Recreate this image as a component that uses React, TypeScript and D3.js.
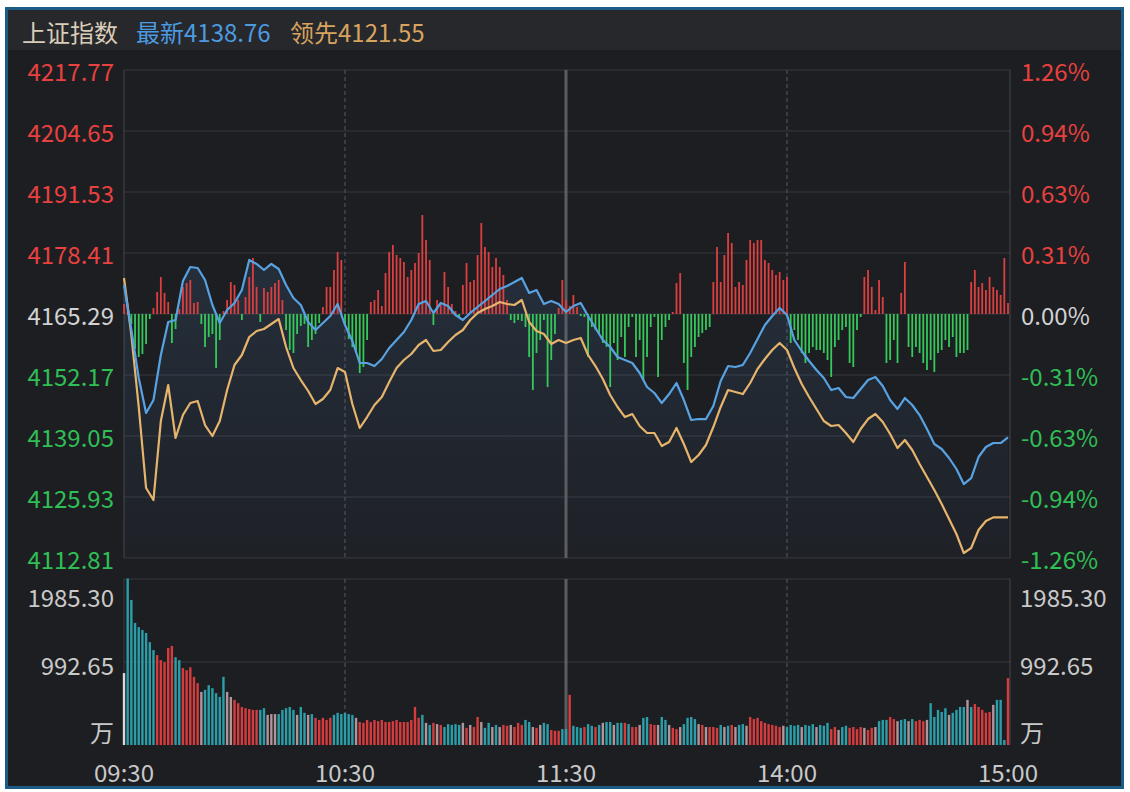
import React from "react";
import * as d3 from "d3";

const prevClose = 4165.29;
const priceTicks = [4217.77, 4204.65, 4191.53, 4178.41, 4165.29, 4152.17, 4139.05, 4125.93, 4112.81];
const pctTicks = ["1.26%", "0.94%", "0.63%", "0.31%", "0.00%", "-0.31%", "-0.63%", "-0.94%", "-1.26%"];
const volTicks = [1985.3, 992.65];
const timeLabels = ["09:30", "10:30", "11:30", "14:00", "15:00"];
const timeIdx = [0, 60, 120, 180, 240];
const titleName = "上证指数";
const lastLatest = "最新4138.76";
const lastLeading = "领先4121.55";

// one value every 2 minutes (121 points)
const latest = [
  4171.53, 4161.85, 4151.52, 4144.0, 4146.79, 4156.47, 4163.57, 4164.0, 4172.39, 4175.4,
  4175.18, 4172.6, 4167.23, 4163.35, 4166.15, 4167.66, 4170.45, 4176.91, 4176.05, 4174.75,
  4176.05, 4174.97, 4171.53, 4168.73, 4167.23, 4163.57, 4161.85, 4163.35, 4164.86, 4167.44,
  4162.92, 4159.48, 4154.75, 4154.75, 4154.1, 4155.61, 4157.98, 4159.7, 4161.42, 4164.0,
  4167.44, 4168.09, 4165.51, 4167.66, 4167.01, 4165.07, 4164.0, 4165.51, 4166.8, 4168.09,
  4169.38, 4170.67, 4171.31, 4172.17, 4173.03, 4169.81, 4170.45, 4167.44, 4168.09, 4167.44,
  4165.72, 4167.01, 4167.66, 4164.86, 4162.28, 4159.7, 4158.19, 4156.04, 4155.4, 4154.75,
  4152.6, 4149.59, 4148.3, 4146.15, 4148.08, 4150.45, 4146.79, 4142.49, 4142.7, 4142.7,
  4145.5, 4150.88, 4154.1, 4153.89, 4154.32, 4156.9, 4159.91, 4162.92, 4164.86, 4166.58,
  4165.07, 4159.7, 4157.33, 4155.18, 4153.24, 4151.52, 4148.94, 4149.37, 4147.44, 4147.22,
  4149.16, 4151.09, 4151.74, 4149.8, 4146.79, 4144.86, 4147.22, 4145.72, 4143.56, 4140.55,
  4137.33, 4136.25, 4134.32, 4131.95, 4128.72, 4130.01, 4134.53, 4136.68, 4137.54, 4137.54,
  4138.76,
];

const leading = [
  4173.03, 4160.77, 4145.29, 4127.86, 4125.28, 4142.27, 4150.02, 4138.62, 4143.56, 4146.15,
  4146.58, 4141.41, 4139.05, 4142.27, 4148.94, 4154.32, 4156.47, 4160.34, 4161.63, 4162.06,
  4163.14, 4164.21, 4158.19, 4153.67, 4151.09, 4148.73, 4145.93, 4147.01, 4148.94, 4153.67,
  4152.81, 4145.93, 4140.77, 4143.13, 4145.72, 4147.44, 4150.66, 4153.67, 4155.4, 4156.69,
  4158.62, 4159.7, 4157.33, 4157.55, 4159.27, 4160.77, 4161.85, 4164.0, 4165.51, 4166.37,
  4167.01, 4167.87, 4167.44, 4167.23, 4168.3, 4163.57, 4161.63, 4160.99, 4158.84, 4159.7,
  4159.05, 4159.7, 4160.13, 4156.47, 4154.1, 4151.31, 4147.87, 4145.29, 4143.13, 4143.78,
  4141.2, 4139.69, 4139.69, 4136.9, 4137.76, 4140.77, 4137.33, 4133.46, 4134.96, 4137.11,
  4140.98, 4145.29, 4148.94, 4148.51, 4148.08, 4150.45, 4153.46, 4155.61, 4157.55, 4159.05,
  4157.55, 4153.67, 4150.23, 4147.44, 4144.86, 4142.27, 4141.2, 4141.41, 4139.69, 4137.76,
  4140.55, 4142.7, 4143.78, 4142.06, 4139.48, 4136.47, 4138.19, 4136.04, 4133.02, 4130.23,
  4127.43, 4124.42, 4121.19, 4117.97, 4113.88, 4114.96, 4118.83, 4120.76, 4121.55, 4121.55,
  4121.55,
];

// per-minute up/down strength bars (241)
const flow = [
  10, 8, -10, -35, -43, -40, -30, -5, 6, 22,
  37, 21, 12, -29, -15, 5, 27, 31, 34, 11,
  12, -10, -33, -23, -20, -54, -26, 3, 14, 32,
  29, 14, -6, 17, 37, 56, 27, -8, 26, 22,
  27, 31, 34, 14, -16, -36, -39, -20, -12, -10,
  -33, -26, -20, -9, 7, 27, 27, 44, 62, 54,
  -10, -25, -33, -39, -59, -53, -26, 12, 14, 24,
  8, 41, 62, 69, 59, 56, 52, 37, 44, 51,
  61, 99, 74, 54, -11, 14, 9, 42, 27, 10,
  3, -3, 29, 51, 32, 34, 59, 91, 67, 62,
  47, 56, 47, 39, 14, -6, -9, -6, -7, -13,
  -43, -76, -39, -26, -6, -73, -46, -20, 6, 34,
  14, 8, 19, 7, -2, -3, -43, -13, -16, -19,
  -29, -33, -73, -29, -46, -23, -43, -13, -3, -43,
  -26, -66, -43, -13, -3, -63, -26, -13, -6, 2,
  31, 41, -49, -76, -43, -33, -23, -19, -16, -13,
  32, 67, 32, 59, 81, 71, 27, 32, 29, 54,
  74, 71, 74, 74, 54, 51, 44, 39, 42, 34,
  37, -29, -16, -26, -39, -49, -39, -33, -36, -36,
  -39, -46, -63, -33, -26, -16, -13, -49, -53, -16,
  -3, 37, 44, 27, 4, 34, 17, -49, -46, -26,
  -49, 21, 52, -33, -43, -33, -39, -49, -56, -46,
  -58, -39, -36, -26, -33, -23, -43, -39, -39, -36,
  32, 44, 27, 31, 24, 37, 27, 24, 19, 56,
  11,
];

// per-minute volume in 万 (241)
const volume = [
  860, 1990, 1735, 1460, 1410, 1375, 1340, 1230, 1135, 1075,
  1015, 990, 1160, 1185, 1050, 1015, 920, 895, 930, 815,
  740, 635, 660, 715, 680, 620, 575, 815, 635, 575,
  540, 500, 455, 440, 430, 420, 420, 420, 440, 360,
  370, 370, 370, 420, 440, 455, 420, 360, 455, 385,
  360, 370, 325, 300, 325, 300, 325, 360, 385, 370,
  385, 370, 360, 325, 275, 265, 300, 275, 300, 285,
  300, 275, 275, 285, 300, 275, 275, 275, 300, 455,
  325, 360, 265, 240, 265, 250, 240, 215, 250, 240,
  250, 240, 265, 205, 240, 215, 335, 275, 205, 265,
  215, 240, 215, 240, 230, 240, 215, 265, 240, 300,
  275, 215, 205, 240, 265, 250, 180, 170, 170, 190,
  190, 600, 230, 215, 205, 215, 250, 230, 215, 240,
  265, 275, 275, 240, 265, 265, 265, 250, 215, 215,
  240, 325, 335, 250, 240, 240, 335, 300, 240, 205,
  190, 215, 250, 325, 335, 310, 250, 240, 215, 215,
  215, 205, 240, 215, 230, 240, 215, 240, 250, 230,
  335, 310, 325, 285, 265, 250, 240, 230, 215, 230,
  215, 240, 230, 240, 215, 240, 230, 250, 215, 240,
  230, 265, 190, 215, 180, 215, 230, 205, 215, 190,
  215, 205, 180, 205, 215, 285, 300, 300, 335, 310,
  285, 300, 310, 285, 310, 285, 300, 285, 300, 500,
  335, 420, 395, 440, 360, 385, 420, 455, 455, 540,
  455, 490, 455, 420, 385, 395, 480, 540, 540, 60,
  800,
];

// volume bar tone: w first, r up, t down, n flat
const volTone = [
  "wttttttttr", "rrrrttrrrr", "rnttttttnn", "rrrrrrrttn", "nntttttntt",
  "ntrrrrrttt", "tttnrrrrrr", "rrrrrrrrrr", "rtntrnrttt", "ttnrnrrntt",
  "ntnrrnrrrt", "tnrnttrrrt", "trtttrttrt", "nttnttrtrr", "nttrrnttnr",
  "rnttttnrnr", "rrtntrnttn", "rrrrrrrrrn", "ttttntttnt", "ttrrnttrrr",
  "rnrrntttrr", "nttntrrrnt", "ttttnttttn", "trrrrrnttt", "r",
].join("");

const toneColor: Record<string, string> = {
  w: "#d8d8d8",
  r: "#d43c3e",
  t: "#2a9fa9",
  n: "#b0959b",
};

const W = 1130;
const H = 792;
const L = 124;
const R = 1010;
const PT = 70;
const PB = 558;
const VT = 579;
const VB = 745;
const FONT = "'Noto Sans CJK SC', 'Noto Sans', sans-serif";
const FS = 24;

export default function App() {
  const x = d3.scaleLinear().domain([0, 240]).range([L, 1008]);
  const yP = d3.scaleLinear().domain([4112.81, 4217.77]).range([PB, PT]);
  const yF = d3.scaleLinear().domain([-244, 244]).range([PB, PT]);
  const yV = d3.scaleLinear().domain([0, 1985.3]).range([VB, VT]);

  const line = d3
    .line<number>()
    .x((_, i) => x(i * 2))
    .y((d) => yP(d));
  const area = d3
    .area<number>()
    .x((_, i) => x(i * 2))
    .y0(PB)
    .y1((d) => yP(d));

  const pColor = (v: number) => (v > prevClose + 0.001 ? "#e8413f" : v < prevClose - 0.001 ? "#2fbf55" : "#d2d2d2");

  return (
    <svg
      width={W}
      height={H}
      style={{ position: "absolute", left: 0, top: 0, display: "block", background: "#ffffff" }}
      fontFamily={FONT}
    >
      <defs>
        <linearGradient id="ag" x1="0" y1="0" x2="0" y2="1">
          <stop offset="0%" stopColor="#4a7fb5" stopOpacity={0.17} />
          <stop offset="100%" stopColor="#4a7fb5" stopOpacity={0.03} />
        </linearGradient>
      </defs>
      <rect x={6.5} y={8.5} width={1116} height={779} fill="#1d1e22" stroke="#1c5b86" strokeWidth={3} />
      <rect x={8} y={10} width={1113} height={40} fill="#27282c" />

      <text x={22} y={31} fontSize={FS} fill="#d9cdb8" dominantBaseline="central">
        {titleName}
      </text>
      <text x={136} y={31} fontSize={FS} fill="#4c9be0" dominantBaseline="central">
        {lastLatest}
      </text>
      <text x={290} y={31} fontSize={FS} fill="#d8a35e" dominantBaseline="central">
        {lastLeading}
      </text>

      {/* price grid */}
      {priceTicks.map((t, i) => (
        <line key={"pg" + i} x1={L} x2={R} y1={yP(t)} y2={yP(t)} stroke="#38393e" strokeWidth={1} />
      ))}
      <line x1={L} x2={L} y1={PT} y2={PB} stroke="#45464b" />
      <line x1={R} x2={R} y1={PT} y2={PB} stroke="#45464b" />
      {[60, 180].map((t) => (
        <line key={"pv" + t} x1={x(t)} x2={x(t)} y1={PT} y2={PB} stroke="#57585d" strokeDasharray="4,3" />
      ))}

      {/* volume grid */}
      {volTicks.map((t, i) => (
        <line key={"vg" + i} x1={L} x2={R} y1={yV(t)} y2={yV(t)} stroke="#38393e" />
      ))}
      <line x1={L} x2={L} y1={VT} y2={VB} stroke="#3a3b40" />
      <line x1={R} x2={R} y1={VT} y2={VB} stroke="#45464b" />
      {[60, 180].map((t) => (
        <line key={"vv" + t} x1={x(t)} x2={x(t)} y1={VT} y2={VB} stroke="#57585d" strokeDasharray="4,3" />
      ))}

      {/* area under latest */}
      <path d={area(latest) || ""} fill="url(#ag)" />

      {/* 11:30 separator */}
      <line x1={x(120)} x2={x(120)} y1={PT} y2={PB} stroke="#5c5d62" strokeWidth={3} />
      <line x1={x(120)} x2={x(120)} y1={VT} y2={VB} stroke="#5c5d62" strokeWidth={3} />

      {/* flow bars */}
      {flow.map((v, i) => (
        <rect
          key={"f" + i}
          x={x(i) - 0.9}
          width={1.8}
          y={Math.min(yF(v), yF(0))}
          height={Math.abs(yF(v) - yF(0))}
          fill={v >= 0 ? "#dc3f3f" : "#35c95a"}
        />
      ))}

      {/* volume bars */}
      {volume.map((v, i) => (
        <rect
          key={"v" + i}
          x={x(i) - 1.2}
          width={2.4}
          y={yV(v)}
          height={yV(0) - yV(v)}
          fill={toneColor[volTone[i]]}
        />
      ))}

      {/* lines */}
      <path d={line(leading) || ""} fill="none" stroke="#e6b46c" strokeWidth={2.2} strokeLinejoin="round" />
      <path d={line(latest) || ""} fill="none" stroke="#58a2e2" strokeWidth={2.2} strokeLinejoin="round" />

      {/* left price labels */}
      {priceTicks.map((t, i) => (
        <text
          key={"pl" + i}
          x={114}
          y={yP(t)}
          fontSize={FS}
          textAnchor="end"
          dominantBaseline="central"
          fill={pColor(t)}
        >
          {t.toFixed(2)}
        </text>
      ))}
      {/* right pct labels */}
      {pctTicks.map((t, i) => (
        <text
          key={"pr" + i}
          x={1021}
          y={yP(priceTicks[i])}
          fontSize={FS}
          textAnchor="start"
          dominantBaseline="central"
          fill={pColor(priceTicks[i])}
        >
          {t}
        </text>
      ))}

      {/* volume labels */}
      {volTicks.map((t, i) => (
        <g key={"vl" + i}>
          <text
            x={114}
            y={i === 0 ? yV(t) + 17 : yV(t) + 2}
            fontSize={FS}
            textAnchor="end"
            dominantBaseline="central"
            fill="#c9c9c9"
          >
            {t.toFixed(2)}
          </text>
          <text
            x={1020}
            y={i === 0 ? yV(t) + 17 : yV(t) + 2}
            fontSize={FS}
            textAnchor="start"
            dominantBaseline="central"
            fill="#c9c9c9"
          >
            {t.toFixed(2)}
          </text>
        </g>
      ))}
      <text x={114} y={731} fontSize={FS} textAnchor="end" dominantBaseline="central" fill="#c9c9c9">
        万
      </text>
      <text x={1020} y={731} fontSize={FS} textAnchor="start" dominantBaseline="central" fill="#c9c9c9">
        万
      </text>

      {/* time labels */}
      {timeLabels.map((t, i) => (
        <text
          key={"tl" + i}
          x={x(timeIdx[i])}
          y={771}
          fontSize={FS}
          textAnchor="middle"
          dominantBaseline="central"
          fill="#c9c9c9"
        >
          {t}
        </text>
      ))}
    </svg>
  );
}
